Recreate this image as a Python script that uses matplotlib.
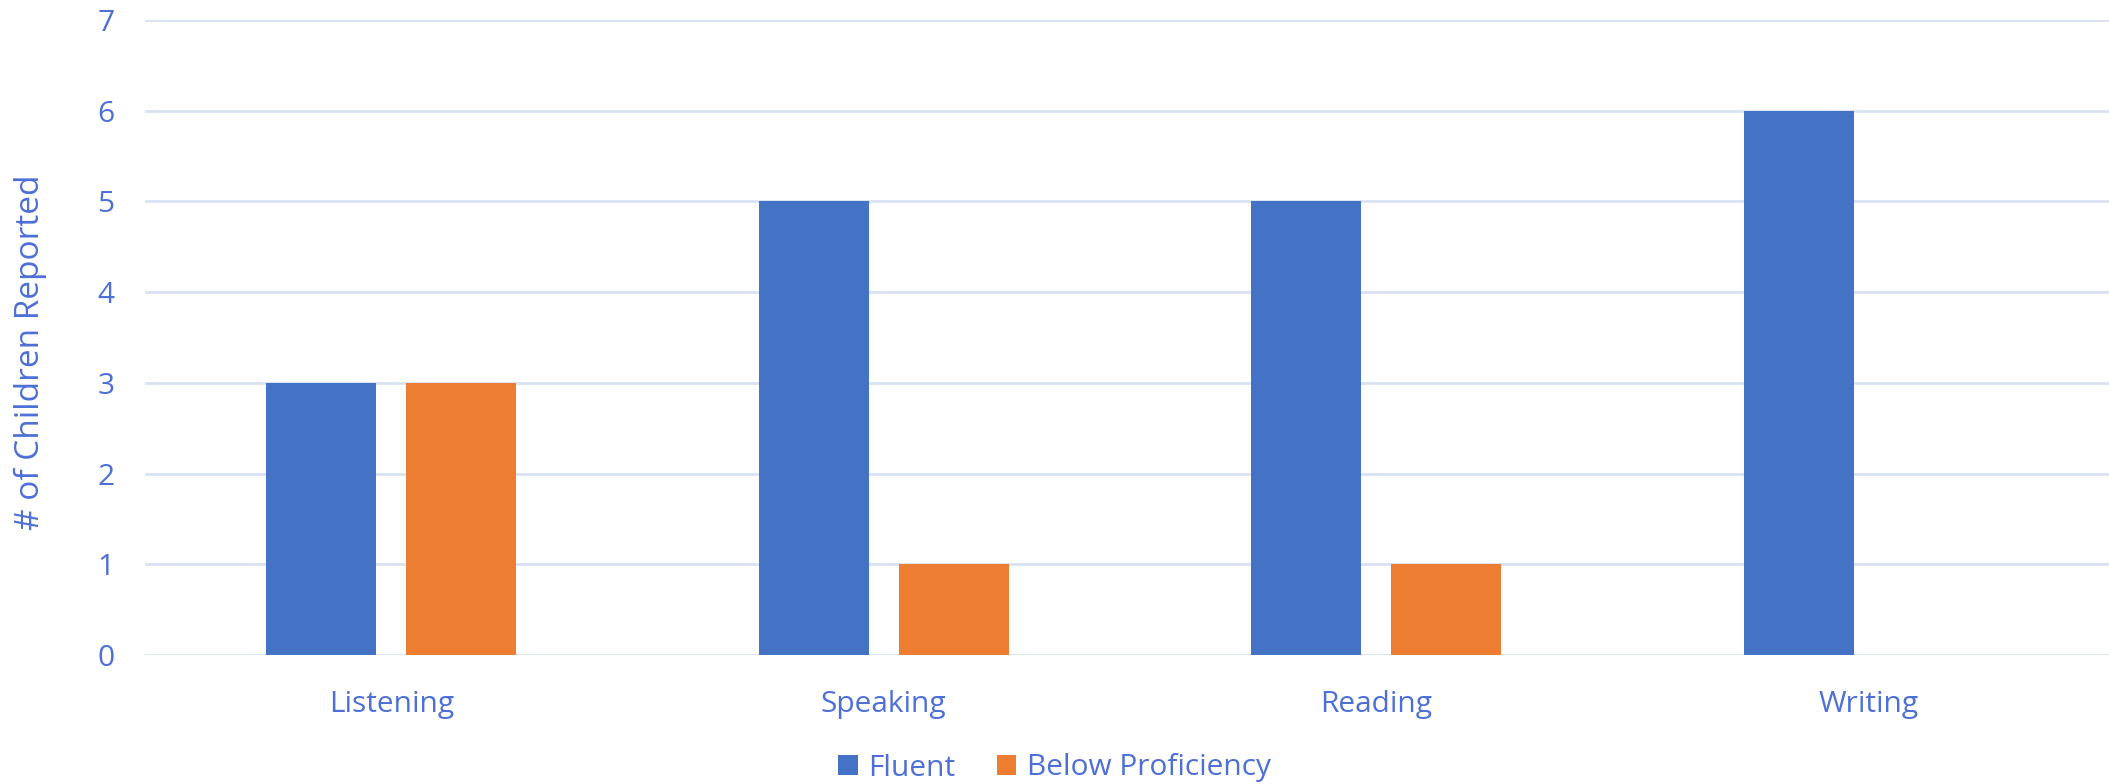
import matplotlib
matplotlib.use("Agg")
import matplotlib.pyplot as plt
from matplotlib.patches import Patch
import numpy as np

# Survey results by skill area
skills = ["Listening", "Speaking", "Reading", "Writing"]
fluent = [3, 5, 5, 6]
below_proficiency = [3, 1, 1, 0]
y_ticks = [0, 1, 2, 3, 4, 5, 6, 7]

blue = "#4472C4"
orange = "#ED7D31"
text_color = "#4D6FD6"
grid_color = "#D9E1F4"

plt.rcParams["font.family"] = ["Open Sans", "DejaVu Sans"]

W, H = 2109, 784
fig = plt.figure(figsize=(W / 100, H / 100), dpi=100)
ax = fig.add_axes([145 / W, 1 - 655 / H, (2115 - 145) / W, (655 - 20) / H])

x = np.arange(len(skills))
bar_w = 0.2236
offset = bar_w / 2 + 0.0305
ax.bar(x - offset, fluent, width=bar_w, color=blue, zorder=3, label="Fluent")
ax.bar(x + offset, below_proficiency, width=bar_w, color=orange, zorder=3,
       label="Below Proficiency")

ax.set_xlim(-0.5, len(skills) - 0.5)
ax.set_ylim(0, 7)
ax.set_yticks(y_ticks)
ax.set_xticks(x)
ax.set_xticklabels(skills)

ax.yaxis.grid(True, color=grid_color, linewidth=2, zorder=0)
ax.xaxis.grid(False)
for s in ax.spines.values():
    s.set_visible(False)
ax.tick_params(axis="both", length=0, labelsize=21.5, colors=text_color)
ax.tick_params(axis="y", pad=22)
ax.tick_params(axis="x", pad=25)

fig.text(30 / W, 1 - 352 / H, "# of Children Reported", rotation=90,
         ha="center", va="center", fontsize=24, color=text_color)

handles = [Patch(facecolor=blue, label="Fluent"),
           Patch(facecolor=orange, label="Below Proficiency")]
leg = fig.legend(handles=handles, loc="center", bbox_to_anchor=(0.5, 1 - 768 / H),
                 ncol=2, frameon=False, fontsize=21.5, handlelength=0.65,
                 handleheight=0.65, handletextpad=0.35, columnspacing=1.4,
                 borderpad=0)
for t in leg.get_texts():
    t.set_color(text_color)

fig.savefig("out.png", dpi=100, facecolor="white")
